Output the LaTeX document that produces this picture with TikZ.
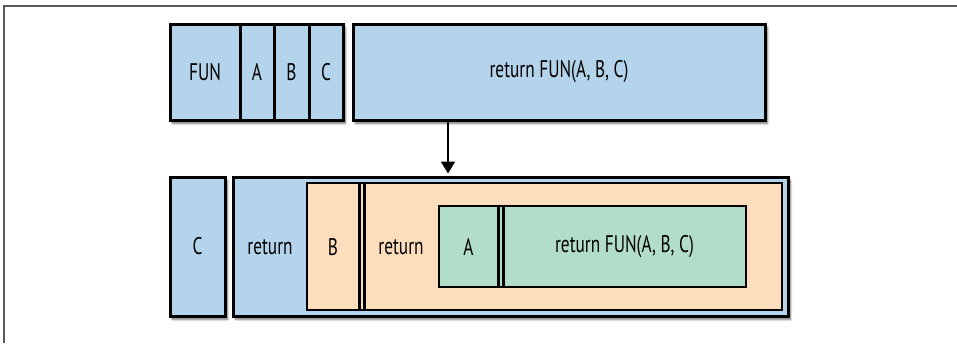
\documentclass[tikz,border=0pt]{standalone}
\usepackage{fontspec}
\setmainfont{PT Sans}[FakeStretch=0.72]
\usetikzlibrary{shadows.blur,arrows.meta}
\definecolor{bblue}{HTML}{B3D4EA}
\definecolor{borange}{HTML}{FDDEBC}
\definecolor{bgreen}{HTML}{B2DEC9}
\newcommand{\lblfont}{\fontsize{24}{28}\selectfont}
\tikzset{
  box/.style={draw=black, line width=3pt, rectangle, inner sep=0pt, font=\lblfont},
  lbl/.style={font=\lblfont, inner sep=0pt},
  shad/.style={blur shadow={shadow xshift=2.5pt, shadow yshift=-3.5pt, shadow blur steps=6, shadow opacity=55}},
  bluebox/.style={box, fill=bblue},
  orangebox/.style={box, fill=borange},
  greenbox/.style={box, fill=bgreen},
  sep/.style={line width=2.5pt, black},
  arr/.style={line width=2pt, -{Triangle[width=14pt,length=12pt]}},
}
\begin{document}
\begin{tikzpicture}[x=1pt,y=-1pt]
\useasboundingbox (0,0) rectangle (957,343);
\draw[line width=1.6pt, black!65] (4,343) -- (4,6) -- (957,6);
% top row
\node[bluebox, shad, minimum width=173pt, minimum height=96pt] (toprow) at (256.5,72) {};
\node[box, minimum width=70pt, minimum height=96pt] (fun) at (205,72) {FUN};
\node[box, minimum width=34pt, minimum height=96pt] (a1) at (257,72) {A};
\node[box, minimum width=35pt, minimum height=96pt] (b1) at (291.5,72) {B};
\node[box, minimum width=34pt, minimum height=96pt] (c1) at (326,72) {C};
\node[bluebox, shad, minimum width=412pt, minimum height=96pt] (ret1) at (559,72) {return FUN(A, B, C)};
% bottom row
\node[bluebox, shad, minimum width=55pt, minimum height=139pt] (c2) at (197.5,246.5) {C};
\node[bluebox, shad, minimum width=555pt, minimum height=139pt] (outer) at (510.5,246.5) {};
\node[lbl] (ret2) at (270,247) {return};
\node[orangebox, minimum width=475pt, minimum height=127pt, line width=2.8pt] (orange) at (544.5,246.5) {};
\node[lbl] (b2) at (333,247) {B};
\coordinate (s1) at (359.5,0);
\coordinate (s2) at (364.5,0);
\draw[sep] (orange.north -| s1) -- (orange.south -| s1);
\draw[sep] (orange.north -| s2) -- (orange.south -| s2);
\node[lbl] (ret3) at (401,247) {return};
\node[greenbox, minimum width=307pt, minimum height=81pt, line width=2.8pt] (green) at (592.5,246.5) {};
\node[lbl] (a2) at (468.5,247) {A};
\coordinate (s3) at (498.5,0);
\coordinate (s4) at (503.5,0);
\draw[sep] (green.north -| s3) -- (green.south -| s3);
\draw[sep] (green.north -| s4) -- (green.south -| s4);
\node[lbl] (ret4) at (624.5,247) {return FUN(A, B, C)};
% arrow
\coordinate (ax) at (448,0);
\draw[arr] (ret1.south -| ax) -- ([yshift=2pt]outer.north -| ax);
\end{tikzpicture}
\end{document}
